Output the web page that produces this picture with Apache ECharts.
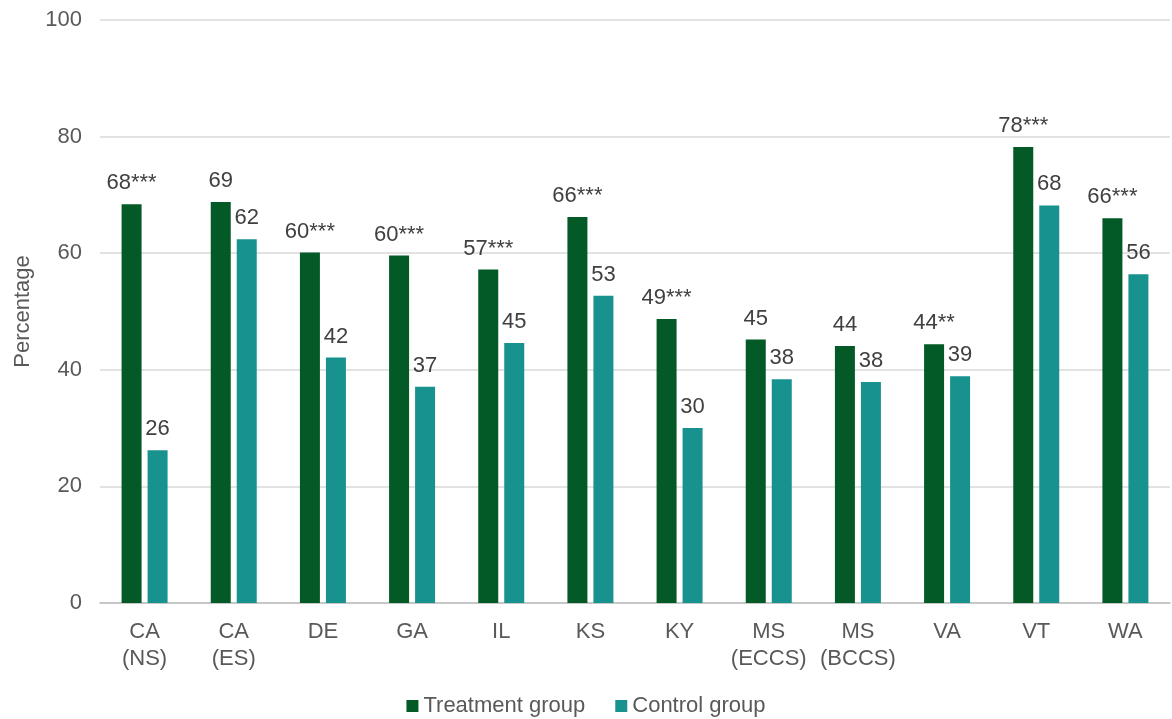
<!DOCTYPE html>
<html>
<head>
<meta charset="utf-8">
<script src="https://cdn.jsdelivr.net/npm/echarts@6/dist/echarts.min.js"></script>
<style>
html,body{margin:0;padding:0;background:#fff;}
#chart{width:1172px;height:719px;}
</style>
</head>
<body>
<div id="chart"></div>
<script>
var categories = ['CA\n(NS)', 'CA\n(ES)', 'DE', 'GA', 'IL', 'KS', 'KY', 'MS\n(ECCS)', 'MS\n(BCCS)', 'VA', 'VT', 'WA'];
var treatment = [68.4, 68.8, 60.1, 59.6, 57.2, 66.2, 48.7, 45.2, 44.1, 44.4, 78.2, 66.0];
var control = [26.2, 62.4, 42.1, 37.1, 44.6, 52.7, 30.0, 38.4, 37.9, 38.9, 68.2, 56.4];
var significance = ['***', '', '***', '***', '***', '***', '***', '', '', '**', '***', '***'];
var yTicks = [0, 20, 40, 60, 80, 100];

var FONT = '"Liberation Sans", Arial, sans-serif';
var chart = echarts.init(document.getElementById('chart'), null, {renderer: 'canvas'});
chart.setOption({
  animation: false,
  textStyle: {fontFamily: FONT},
  grid: {left: 100, right: 2, top: 20, bottom: 116, containLabel: false, outerBoundsMode: 'none'},
  legend: {
    top: 690,
    left: 'center',
    itemWidth: 12,
    itemHeight: 12,
    itemGap: 30,
    icon: 'rect',
    textStyle: {fontSize: 22, color: '#595959', fontFamily: FONT},
    data: ['Treatment group', 'Control group']
  },
  xAxis: {
    type: 'category',
    data: categories,
    axisLine: {lineStyle: {color: '#bfbfbf', width: 1.5}},
    axisTick: {show: false},
    axisLabel: {interval: 0, fontSize: 22, color: '#595959', lineHeight: 27, margin: 15, fontFamily: FONT}
  },
  yAxis: {
    type: 'value',
    min: yTicks[0],
    max: yTicks[yTicks.length - 1],
    interval: 20,
    name: 'Percentage',
    nameLocation: 'middle',
    nameGap: 66,
    nameTextStyle: {fontSize: 22, color: '#595959', fontFamily: FONT},
    axisLine: {show: false},
    axisTick: {show: false},
    axisLabel: {fontSize: 22, color: '#595959', margin: 18, fontFamily: FONT},
    splitLine: {lineStyle: {color: '#d9d9d9', width: 1.5}}
  },
  series: [
    {
      name: 'Treatment group',
      type: 'bar',
      data: treatment,
      barWidth: 20,
      barGap: '30%',
      itemStyle: {color: '#045A26'},
      label: {
        show: true,
        position: 'top',
        distance: 10,
        fontSize: 22,
        color: '#404040',
        fontFamily: FONT,
        formatter: function (p) {
          return Math.round(p.value) + significance[p.dataIndex];
        }
      }
    },
    {
      name: 'Control group',
      type: 'bar',
      data: control,
      barWidth: 20,
      itemStyle: {color: '#17928F'},
      label: {
        show: true,
        position: 'top',
        distance: 10,
        fontSize: 22,
        color: '#404040',
        fontFamily: FONT,
        formatter: function (p) { return String(Math.round(p.value)); }
      }
    }
  ]
});
</script>
</body>
</html>
